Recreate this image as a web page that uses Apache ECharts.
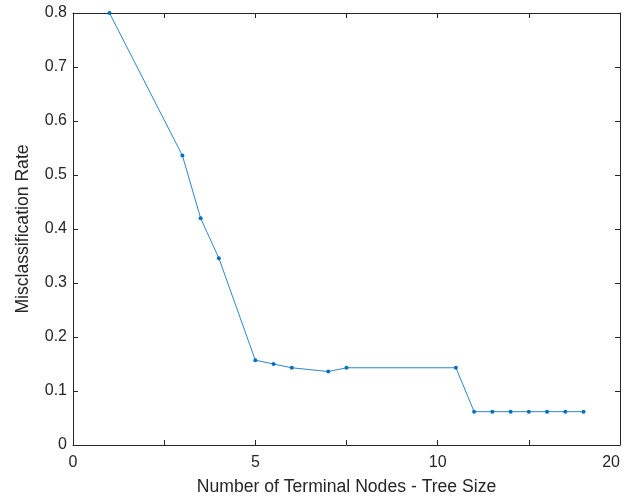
<!DOCTYPE html>
<html>
<head>
<meta charset="utf-8">
<title>Misclassification Rate vs Tree Size</title>
<script src="https://cdn.jsdelivr.net/npm/echarts@6/dist/echarts.min.js"></script>
<style>
  html, body { margin: 0; padding: 0; background: #ffffff; }
  #chart { width: 640px; height: 502px; }
</style>
</head>
<body>
<div id="chart"></div>
<script>
// Tree sizes (x) and cross-validated misclassification rate (y)
const treeSizes = [1, 3, 3.5, 4, 5, 5.5, 6, 7, 7.5, 10.5, 11, 11.5, 12, 12.5, 13, 13.5, 14];
const misclassRates = [0.800, 0.536, 0.420, 0.346, 0.157, 0.150, 0.143, 0.136, 0.143, 0.143,
                       0.0617, 0.0617, 0.0617, 0.0617, 0.0617, 0.0617, 0.0617];
// Labels shown at each x tick (ticks every 2.5 units)
const xTickLabels = ['0', '', '5', '', '10', '', '20'];

const ink = '#262626';
const lineBlue = '#0072BD';
const font = "'Liberation Sans', Arial, Helvetica, sans-serif";

const chart = echarts.init(document.getElementById('chart'), null, { renderer: 'canvas' });

const baseX = {
  type: 'value', min: 0, max: 15, interval: 2.5,
  axisLine: { show: true, onZero: false, lineStyle: { color: ink, width: 1 } },
  axisTick: { show: true, inside: true, length: 5, lineStyle: { color: ink } },
  splitLine: { show: false }
};
const baseY = {
  type: 'value', min: 0, max: 0.8, interval: 0.1,
  axisLine: { show: true, onZero: false, lineStyle: { color: ink, width: 1 } },
  axisTick: { show: true, inside: true, length: 5, lineStyle: { color: ink } },
  splitLine: { show: false }
};

chart.setOption({
  animation: false,
  backgroundColor: '#ffffff',
  grid: { left: 73, right: 20, top: 13, bottom: 57, containLabel: false, outerBoundsMode: 'none' },
  xAxis: [
    Object.assign({}, baseX, {
      position: 'bottom',
      axisLabel: {
        show: true, color: ink, fontFamily: font, fontSize: 16, margin: 10,
        alignMaxLabel: 'right',
        formatter: v => xTickLabels[Math.round(v / 2.5)] || ''
      },
      name: 'Number of Terminal Nodes - Tree Size',
      nameLocation: 'middle', nameGap: 33,
      nameTextStyle: { color: ink, fontFamily: font, fontSize: 17.6 }
    }),
    Object.assign({}, baseX, { position: 'top', axisLabel: { show: false } })
  ],
  yAxis: [
    Object.assign({}, baseY, {
      position: 'left',
      axisLabel: {
        show: true, color: ink, fontFamily: font, fontSize: 16, margin: 6,
        formatter: v => (v === 0 ? '0' : v.toFixed(1))
      },
      name: 'Misclassification Rate',
      nameLocation: 'middle', nameGap: 41, nameRotate: 90,
      nameTextStyle: { color: ink, fontFamily: font, fontSize: 17.6 }
    }),
    Object.assign({}, baseY, { position: 'right', axisLabel: { show: false } })
  ],
  series: [{
    type: 'line',
    xAxisIndex: 0, yAxisIndex: 0,
    data: treeSizes.map((x, i) => [x, misclassRates[i]]),
    symbol: 'circle', symbolSize: 4, showSymbol: true,
    itemStyle: { color: lineBlue },
    lineStyle: { color: '#2f86c9', width: 1 },
    clip: false
  }]
});
</script>
</body>
</html>
